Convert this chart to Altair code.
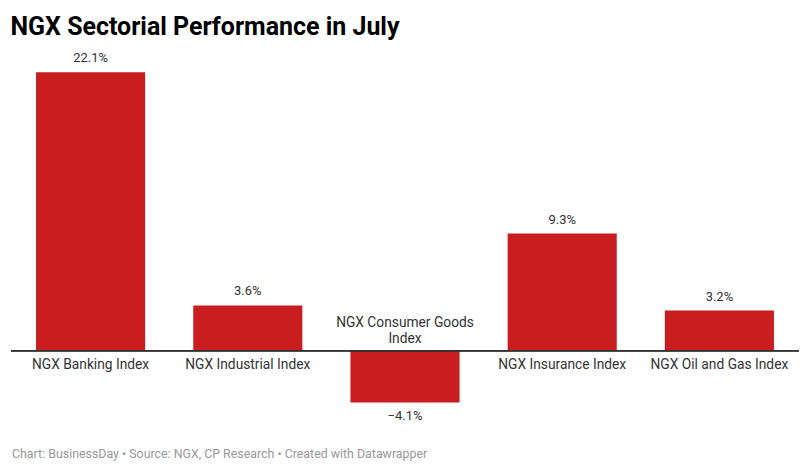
import altair as alt
import pandas as pd

categories = ["NGX Banking Index", "NGX Industrial Index", "NGX Consumer Goods Index",
              "NGX Insurance Index", "NGX Oil and Gas Index"]
labels = ["NGX Banking Index", "NGX Industrial Index", "NGX Consumer Goods\nIndex",
          "NGX Insurance Index", "NGX Oil and Gas Index"]
values = [22.1, 3.6, -4.1, 9.3, 3.2]

df = pd.DataFrame({"cat": categories, "label": labels, "value": values})
df["text"] = df["value"].map(lambda v: (f"{v:.1f}%").replace("-", "\u2212"))
df["zero"] = 0.0

W, H = 787, 370
FONT = "Roboto"

x = alt.X("cat:N", sort=categories, axis=None,
          scale=alt.Scale(paddingInner=0.306, paddingOuter=0.153))
y_scale = alt.Scale(domain=[-5.47, 23.85], nice=False, zero=False)

base = alt.Chart(df)

bars = base.mark_bar(color="#c91d1f").encode(
    x=x,
    y=alt.Y("value:Q", scale=y_scale, axis=None),
    y2="zero:Q",
)

rule = base.mark_rule(color="#333333", strokeWidth=1).encode(
    x=alt.value(-1), x2=alt.value(W + 1),
    y=alt.Y("zero:Q", scale=y_scale),
)

pos_vals = base.transform_filter("datum.value >= 0").mark_text(
    font=FONT, fontSize=13, color="#333333", baseline="bottom", dy=-7
).encode(x=x, y=alt.Y("value:Q", scale=y_scale), text="text:N")

neg_vals = base.transform_filter("datum.value < 0").mark_text(
    font=FONT, fontSize=13, color="#333333", baseline="top", dy=8
).encode(x=x, y=alt.Y("value:Q", scale=y_scale), text="text:N")

pos_labels = base.transform_filter("datum.value >= 0").mark_text(
    font=FONT, fontSize=13.8, color="#333333", baseline="top", dy=7
).encode(x=x, y=alt.Y("zero:Q", scale=y_scale), text="label:N")

neg_labels = base.transform_filter("datum.value < 0").mark_text(
    font=FONT, fontSize=13.8, color="#333333", baseline="top", dy=-35,
    lineBreak="\n", lineHeight=16
).encode(x=x, y=alt.Y("zero:Q", scale=y_scale), text="label:N")

footer = alt.Chart(pd.DataFrame({"t": ["Chart: BusinessDay \u2022 Source: NGX, CP Research \u2022 Created with Datawrapper"]})).mark_text(
    font=FONT, fontSize=12.4, color="#999999", align="left", baseline="middle"
).encode(x=alt.value(0), y=alt.value(404), text="t:N")

chart = alt.layer(bars, rule, pos_vals, neg_vals, pos_labels, neg_labels, footer).properties(
    width=W, height=H,
    autosize=alt.AutoSizeParams(type="none"),
    padding={"left": 4, "top": 42, "right": 4, "bottom": 53},
    title=alt.Title("NGX Sectorial Performance in July", anchor="start",
                    font=FONT, fontSize=25, fontWeight="bold", color="#000000",
                    offset=10),
).configure_view(stroke=None)

chart.save("out.html", embed_options={"renderer": "svg", "actions": False})
